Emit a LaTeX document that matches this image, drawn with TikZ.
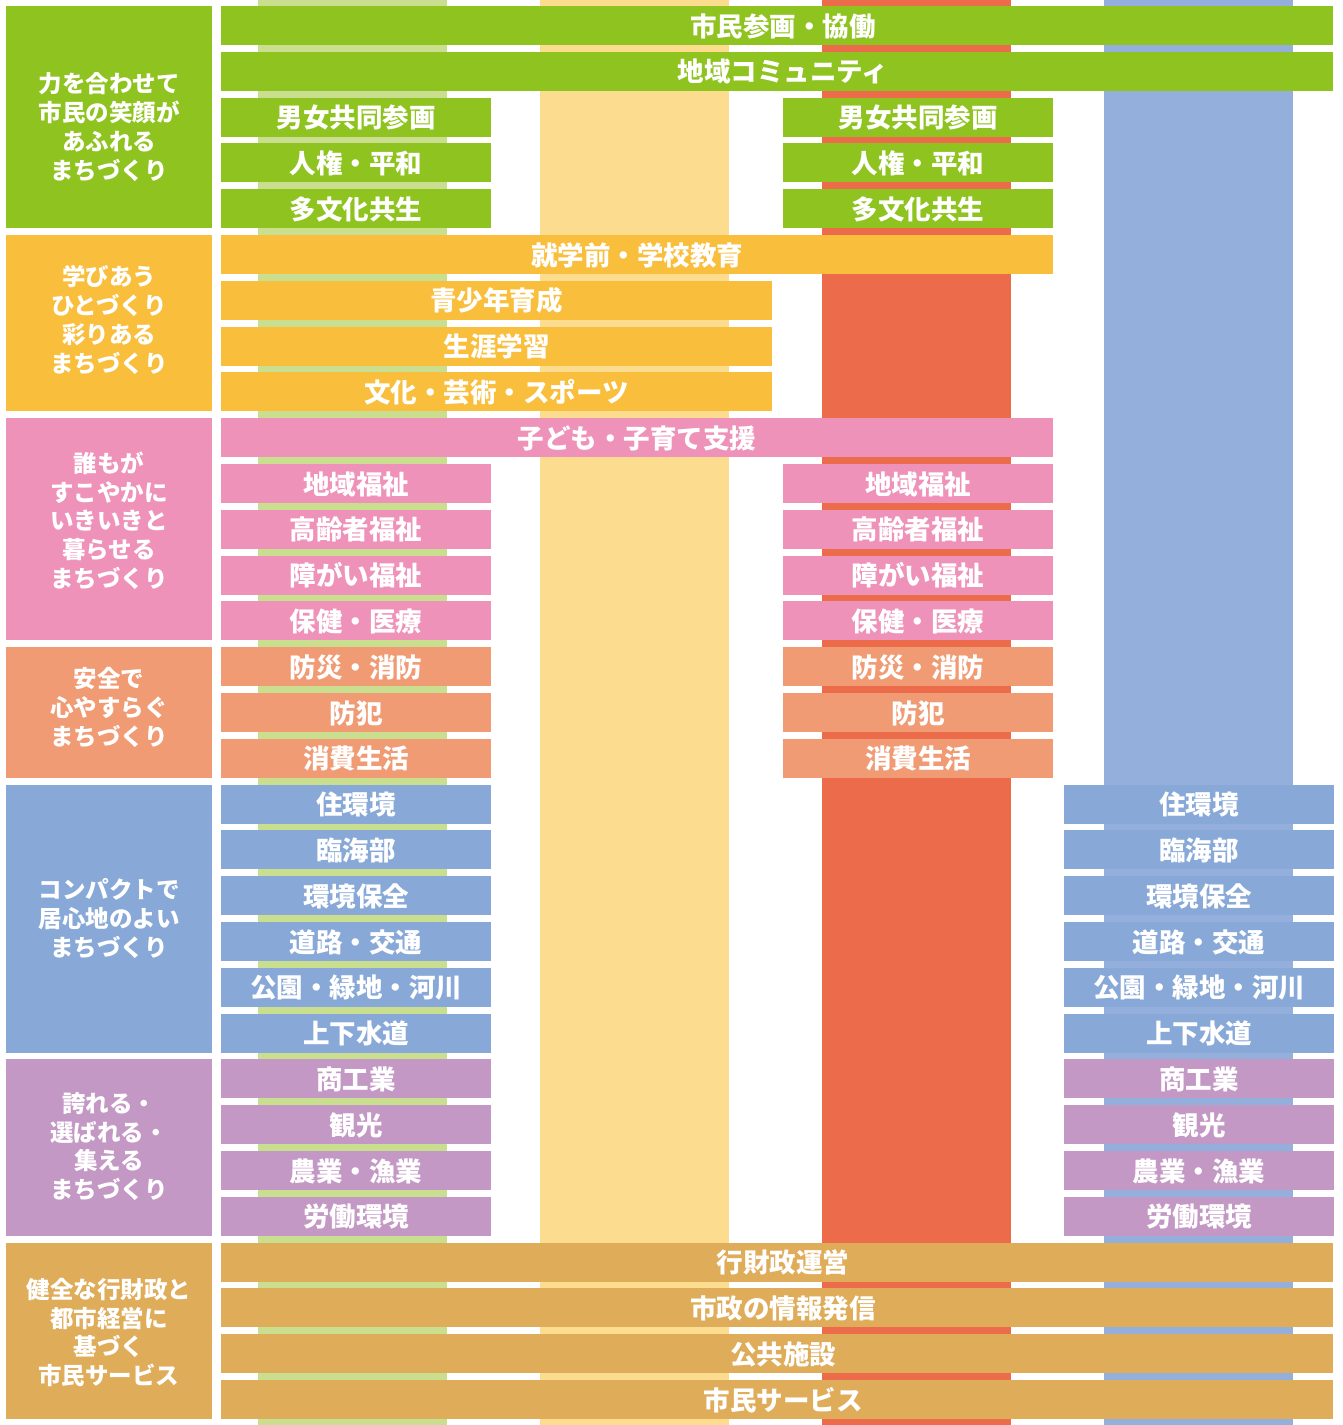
\documentclass[tikz,border=0pt]{standalone}
\usepackage{fontspec}
\setmainfont{Noto Sans CJK JP}

\definecolor{grn}{HTML}{8FC31F}
\definecolor{grnpale}{HTML}{C9DF8F}
\definecolor{ylw}{HTML}{F9BE3C}
\definecolor{ylwpale}{HTML}{FCDC8E}
\definecolor{redstripe}{HTML}{EC6B4A}
\definecolor{pnk}{HTML}{EE92B9}
\definecolor{sal}{HTML}{F09B74}
\definecolor{blu}{HTML}{88A9D7}
\definecolor{blupale}{HTML}{94AFDB}
\definecolor{prp}{HTML}{C498C4}
\definecolor{tanbar}{HTML}{DFAC5A}

\begin{document}
\begin{tikzpicture}
  [x=1pt,y=-1pt,
   bar/.style={minimum height=39pt,inner sep=0pt,text=white,
     font=\fontsize{26.5}{30}\selectfont\bfseries,text height=24.3pt,text depth=3.2pt},
   cat/.style={minimum width=206pt,inner sep=0pt},
   cattext/.style={align=center,inner sep=0pt,text=white,
     font=\fontsize{23.5}{28.7}\selectfont\bfseries}]
  \useasboundingbox (0,0) rectangle (1343,1425);
  % stripes behind everything
  \fill[grnpale] (258,0) rectangle (447,1425);
  \fill[ylwpale] (540,0) rectangle (729,1425);
  \fill[redstripe] (822,0) rectangle (1011,1425);
  \fill[blupale] (1104,0) rectangle (1293,1425);
  % full width bars
  \foreach \i/\c/\t in {1/grn/市民参画・協働, 2/grn/地域コミュニティ,
      28/tanbar/行財政運営, 29/tanbar/市政の情報発信,
      30/tanbar/公共施設, 31/tanbar/市民サービス}
    \node[bar,fill=\c,minimum width=1112pt] (f\i) at (777,{25.5+(\i-1)*45.8}) {\hspace*{12pt}\t};
  % single bars
  \foreach \n/\i/\x/\w/\c/\t in {m6/6/637/832/ylw/就学前・学校教育,
      s7/7/496.5/551/ylw/青少年育成, s8/8/496.5/551/ylw/生涯学習,
      s9/9/496.5/551/ylw/文化・芸術・スポーツ,
      m10/10/637/832/pnk/子ども・子育て支援}
    \node[bar,fill=\c,minimum width=\w pt] (\n) at (\x,{25.5+(\i-1)*45.8}) {\t};
  % left and right bars
  \foreach \i/\c/\xr/\t in {3/grn/918/男女共同参画, 4/grn/918/人権・平和,
      5/grn/918/多文化共生,
      11/pnk/918/地域福祉, 12/pnk/918/高齢者福祉, 13/pnk/918/障がい福祉,
      14/pnk/918/保健・医療,
      15/sal/918/防災・消防, 16/sal/918/防犯, 17/sal/918/消費生活,
      18/blu/1199/住環境, 19/blu/1199/臨海部, 20/blu/1199/環境保全,
      21/blu/1199/道路・交通, 22/blu/1199/公園・緑地・河川,
      23/blu/1199/上下水道,
      24/prp/1199/商工業, 25/prp/1199/観光, 26/prp/1199/農業・漁業,
      27/prp/1199/労働環境}
  {
    \node[bar,fill=\c,minimum width=270pt] (l\i) at (356,{25.5+(\i-1)*45.8}) {\t};
    \node[bar,fill=\c,minimum width=270pt] (r\i) at (\xr,{25.5+(\i-1)*45.8}) {\t};
  }
  % themes on the left
  \foreach \n/\a/\b/\c/\ty/\t in {
      c1/1/5/grn/127/{力を合わせて\\市民の笑顔が\\あふれる\\まちづくり},
      c2/6/9/ylw/320/{学びあう\\ひとづくり\\彩りある\\まちづくり},
      c3/10/14/pnk/520.5/{誰もが\\すこやかに\\いきいきと\\暮らせる\\まちづくり},
      c4/15/17/sal/707.5/{安全で\\心やすらぐ\\まちづくり},
      c5/18/23/blu/918.5/{コンパクトで\\居心地のよい\\まちづくり},
      c6/24/27/prp/1146.5/{誇れる・\\選ばれる・\\集える\\まちづくり},
      c7/28/31/tanbar/1332.5/{健全な行財政と\\都市経営に\\基づく\\市民サービス}}
  {
    \pgfmathsetmacro{\h}{(\b-\a)*45.8+39}
    \pgfmathsetmacro{\m}{6+(\a-1)*45.8+\h/2}
    \node[cat,fill=\c,minimum height=\h pt] (\n) at (109,\m) {};
    \node[cattext] (\n t) at (109,\ty) {\t};
  }
\end{tikzpicture}
\end{document}
